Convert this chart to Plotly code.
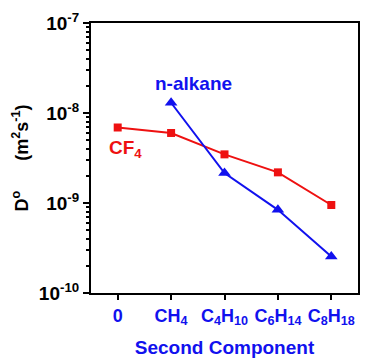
import plotly.graph_objects as go

categories = ["0", "CH<sub>4</sub>", "C<sub>4</sub>H<sub>10</sub>", "C<sub>6</sub>H<sub>14</sub>", "C<sub>8</sub>H<sub>18</sub>"]
cf4_x = [0, 1, 2, 3, 4]
cf4_values = [6.9e-9, 6.0e-9, 3.47e-9, 2.19e-9, 9.5e-10]
alkane_x = [1, 2, 3, 4]
alkane_values = [1.30e-8, 2.15e-9, 8.4e-10, 2.55e-10]
y_tickvals = [1e-10, 1e-9, 1e-8, 1e-7]
y_ticktext = ["10<sup>-10</sup>", "10<sup>-9</sup>", "10<sup>-8</sup>", "10<sup>-7</sup>"]

FONT = "Arial, 'Liberation Sans', sans-serif"
RED = "#ee1111"
BLUE = "#1111ee"

minor_vals = [m * 10.0 ** e for e in (-10, -9, -8) for m in range(2, 10)]

fig = go.Figure()
fig.add_trace(go.Scatter(x=cf4_x, y=cf4_values, mode="lines+markers",
                         line=dict(color=RED, width=2),
                         marker=dict(symbol="square", size=8, color=RED),
                         showlegend=False, cliponaxis=False))
fig.add_trace(go.Scatter(x=alkane_x, y=alkane_values, mode="lines+markers",
                         line=dict(color=BLUE, width=2),
                         marker=dict(symbol="triangle-up", size=11, color=BLUE),
                         showlegend=False, cliponaxis=False))

fig.add_annotation(x=1.425, y=-7.667, xref="x", yref="y", text="<b>n-alkane</b>",
                   showarrow=False, font=dict(family=FONT, size=19, color=BLUE))
fig.add_annotation(x=0.14, y=-8.4, xref="x", yref="y", text="<b>CF<sub>4</sub></b>",
                   showarrow=False, font=dict(family=FONT, size=19, color=RED))

fig.update_layout(
    width=366, height=358,
    margin=dict(l=91, r=8, t=23, b=65),
    paper_bgcolor="white", plot_bgcolor="white",
    font=dict(family=FONT, color="black"),
    xaxis=dict(range=[-0.5, 4.5], tickmode="array", tickvals=list(range(5)),
               ticktext=["<b>%s</b>" % c for c in categories],
               tickfont=dict(family=FONT, size=18, color=BLUE),
               ticks="outside", ticklen=5, tickwidth=2, tickcolor="black",
               showline=True, linecolor="black", linewidth=2, mirror=True,
               showgrid=False, zeroline=False, automargin=False,
               title=dict(text="<b>Second Component</b>", standoff=13,
                          font=dict(family=FONT, size=19, color=BLUE))),
    yaxis=dict(type="log", range=[-10, -7], tickmode="array", tickvals=y_tickvals,
               ticktext=["<b>%s</b>" % t for t in y_ticktext],
               tickfont=dict(family=FONT, size=19, color="black"),
               ticks="outside", ticklen=6, tickwidth=2, tickcolor="black",
               minor=dict(tickmode="array", tickvals=minor_vals, ticks="outside",
                          ticklen=3, tickwidth=1.5, tickcolor="black", showgrid=False),
               showline=True, linecolor="black", linewidth=2, mirror=True,
               showgrid=False, zeroline=False, automargin=False,
               title=dict(text="<b>D<sup>o</sup>      (m<sup>2</sup>s<sup>-1</sup>)</b>", standoff=6,
                          font=dict(family=FONT, size=18, color="black"))),
)

fig.write_html("out.html", config={"displayModeBar": False},
               post_script="document.body.style.margin='0';")
